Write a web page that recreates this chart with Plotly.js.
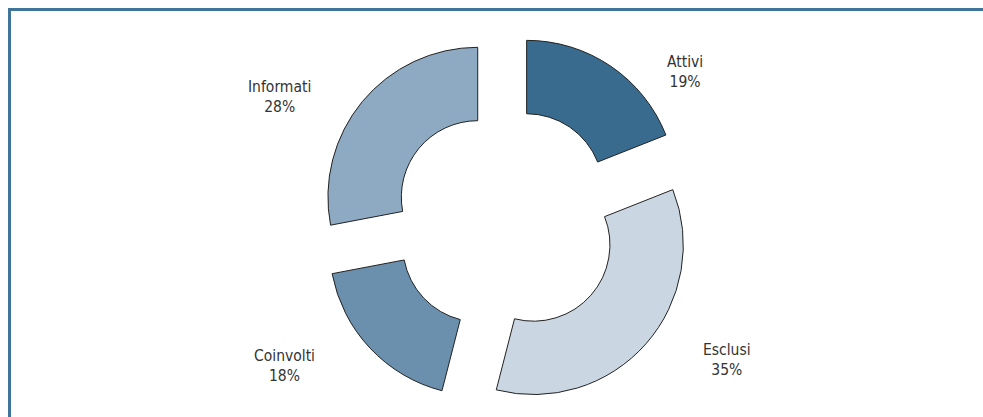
<!DOCTYPE html>
<html>
<head>
<meta charset="utf-8">
<script src="https://cdn.plot.ly/plotly-3.0.1.min.js"></script>
<style>
  html, body { margin: 0; padding: 0; background: #fff; }
  #wrap { position: relative; width: 983px; height: 417px; overflow: hidden; }
  #chart { position: absolute; left: 0; top: 0; width: 983px; height: 417px; }
  #frame { position: absolute; left: 8px; top: 8px; width: 990px; height: 420px;
           border-top: 3px solid #3e7599; border-left: 3px solid #3e7599; pointer-events: none; }
</style>
</head>
<body>
<div id="wrap">
  <div id="chart"></div>
  <div id="frame"></div>
</div>
<script>
// ---- data ----
var categories = ["Attivi", "Esclusi", "Coinvolti", "Informati"];
var shares = [19, 35, 18, 28];
var percentLabels = ["19%", "35%", "18%", "28%"];

// ---- styles / positions ----
var sliceColors = ["#386b8e", "#cad7e2", "#6a90ad", "#8eaac3"];
var labelPx = [[685, 72], [727, 360], [284, 366], [279, 97]];

var W = 983, H = 417;
var M = {l: 29, r: 0, t: 34, b: 10};
var pw = W - M.l - M.r, ph = H - M.t - M.b;

var annotations = categories.map(function (c, i) {
  return {
    text: c + "<br>" + percentLabels[i],
    xref: "paper", yref: "paper",
    x: (labelPx[i][0] - M.l) / pw,
    y: 1 - (labelPx[i][1] - M.t) / ph,
    xanchor: "center", yanchor: "middle",
    showarrow: false,
    font: {family: "DejaVu Sans Condensed, Open Sans, sans-serif", size: 15.5, color: "#333333"}
  };
});

var trace = {
  type: "pie",
  labels: categories,
  values: shares,
  sort: false,
  direction: "clockwise",
  rotation: 0,
  hole: 0.51,
  pull: [0.245, 0.245, 0.245, 0.245],
  textinfo: "none",
  hoverinfo: "label+percent",
  marker: {colors: sliceColors, line: {color: "#222222", width: 1}},
  showlegend: false
};

Plotly.newPlot("chart", [trace], {
  width: W, height: H,
  margin: M,
  paper_bgcolor: "#ffffff",
  plot_bgcolor: "#ffffff",
  showlegend: false,
  annotations: annotations
}, {displayModeBar: false, staticPlot: true});
</script>
</body>
</html>
